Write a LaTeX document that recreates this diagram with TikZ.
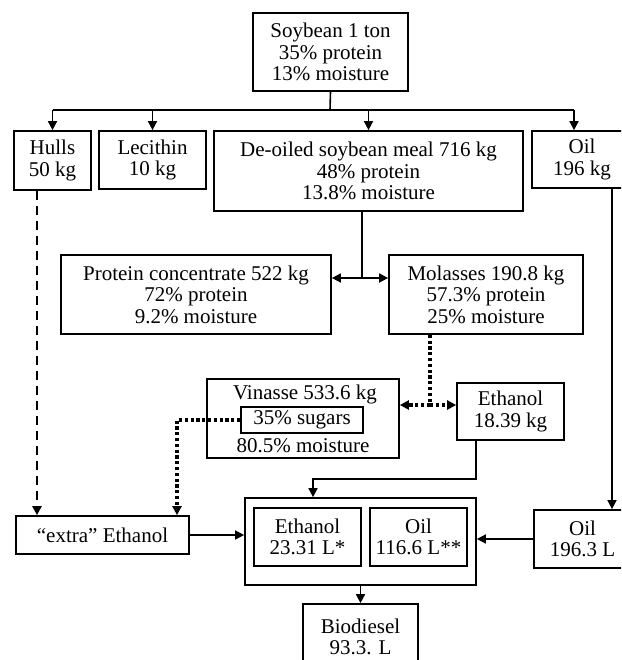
\documentclass[tikz,border=0pt]{standalone}
\usepackage{fontspec}
\setmainfont{Liberation Serif}
\usetikzlibrary{arrows.meta}
\begin{document}
\begin{tikzpicture}[x=1pt,y=-1pt,
  every node/.style={font=\fontsize{21}{21.5}\selectfont},
  box/.style={draw, line width=1.7pt, inner sep=0pt, align=center},
  conn/.style={line width=1.6pt},
  arr/.style={conn, -{Triangle[length=9pt,width=9pt]}},
  dotline/.style={line width=3.2pt, dash pattern=on 3.2pt off 2.6pt},
  dashline/.style={line width=2.8pt, dash pattern=on 9pt off 6pt}]
\useasboundingbox (0,0) rectangle (621,660);
\clip (0,0) rectangle (621,660);
\fill[white] (0,0) rectangle (621,660);

% boxes
\node[box, minimum width=155pt, minimum height=78pt] (soy) at (330.5,52) {Soybean 1 ton\\35\% protein\\13\% moisture};
\node[box, minimum width=77pt, minimum height=59pt] (hulls) at (52.5,160.5) {Hulls\\50 kg};
\node[box, minimum width=107pt, minimum height=58pt] (lec) at (152.5,160) {Lecithin\\10 kg};
\node[box, minimum width=309pt, minimum height=80pt] (meal) at (368.5,171) {De-oiled soybean meal 716 kg\\48\% protein\\13.8\% moisture};
\node[box, minimum width=100pt, minimum height=57pt] (oil1) at (582,159.5) {Oil\\196 kg};
\node[box, minimum width=270pt, minimum height=79pt] (pc) at (196,294.5) {Protein concentrate 522 kg\\72\% protein\\9.2\% moisture};
\node[box, minimum width=194pt, minimum height=79pt] (mol) at (486,294.5) {Molasses 190.8 kg\\57.3\% protein\\25\% moisture};
\node[box, minimum width=192pt, minimum height=79pt] (vin) at (303,418.5) {};
\node (vint) at (305,394) {Vinasse 533.6 kg};
\node[box, minimum width=122pt, minimum height=26pt] (sug) at (302,420) {35\% sugars};
\node (vinm) at (303,446) {80.5\% moisture};
\node[box, minimum width=107pt, minimum height=57pt] (eth) at (510.5,411.5) {Ethanol\\18.39 kg};
\node[box, minimum width=173pt, minimum height=38pt] (xeth) at (102.5,535) {“extra” Ethanol};
\node[box, minimum width=231pt, minimum height=87pt] (big) at (360.5,541.5) {};
\node[box, minimum width=107pt, minimum height=58pt] (ieth) at (307.5,537) {Ethanol\\23.31 L*};
\node[box, minimum width=97pt, minimum height=58pt] (ioil) at (418.5,537) {Oil\\116.6 L**};
\node[box, minimum width=97pt, minimum height=58pt] (oil2) at (582.5,539) {Oil\\196.3 L};
\node[box, minimum width=115pt, minimum height=66pt] (bio) at (360.5,637) {Biodiesel\\93.3. L};

% split from soybean
\coordinate (split) at (330,110);
\coordinate (o1in) at (574,110);
\draw[conn] (soy.south) -- (split);
\draw[conn] (split -| hulls.north) -- (o1in);
\draw[arr] (split -| hulls.north) -- (hulls.north);
\draw[arr] (split -| lec.north) -- (lec.north);
\draw[arr] (split -| meal.north) -- (meal.north);
\draw[arr] (o1in) -- (o1in |- oil1.north);

% meal to protein concentrate / molasses
\coordinate (mj) at (362,278);
\draw[conn] (mj |- meal.south) -- (mj);
\draw[arr] (mj) -- (mj -| pc.east);
\draw[arr] (mj) -- (mj -| mol.west);

% molasses to vinasse / ethanol
\coordinate (vj) at (430,405);
\draw[dotline] (vj |- mol.south) -- (vj);
\draw[dotline, -{Triangle[length=9pt,width=9pt]}] (vj) -- (vj -| vin.east);
\draw[dotline, -{Triangle[length=9pt,width=9pt]}] (vj) -- (vj -| eth.west);

% sugars to extra ethanol
\coordinate (s1) at (177,420);
\draw[dotline, -{Triangle[length=9pt,width=9pt]}] (sug.west) -- (s1) -- (s1 |- xeth.north);

% hulls to extra ethanol
\coordinate (h1) at (37,300);
\draw[dashline, -{Triangle[length=9pt,width=9pt]}] (h1 |- hulls.south) -- (h1 |- xeth.north);

% ethanol to big box
\coordinate (e1) at (476,479);
\coordinate (e2) at (313,479);
\draw[arr] (e1 |- eth.south) -- (e1) -- (e2) -- (e2 |- big.north);

% oil line
\coordinate (o2) at (612,300);
\draw[arr] (o2 |- oil1.south) -- (o2 |- oil2.north);

% into big box
\draw[arr] (xeth.east) -- (xeth.east -| big.west);
\draw[arr] (oil2.west) -- (oil2.west -| big.east);

% to biodiesel
\draw[arr] (big.south) -- (bio.north);
\end{tikzpicture}
\end{document}
